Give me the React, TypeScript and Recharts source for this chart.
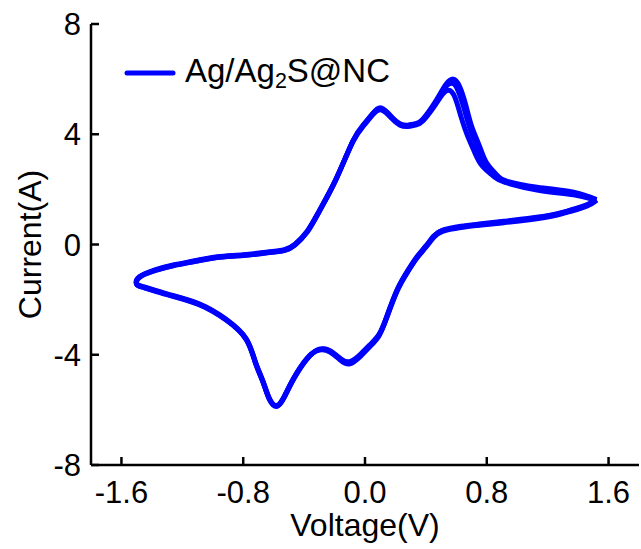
import { LineChart, Line, XAxis, YAxis, Legend } from "recharts";

const voltageTicks = [-1.6, -0.8, 0, 0.8, 1.6];
const currentTicks = [-8, -4, 0, 4, 8];

// three overlapping CV cycles, each one loop starting at the right vertex
const cycle1Voltage = [1.52, 1.46, 1.35, 1.24, 1.08, 0.91, 0.75, 0.63, 0.51, 0.45, 0.4, 0.34, 0.28, 0.21, 0.14, 0.09, 0.03, -0.03, -0.1, -0.16, -0.23, -0.3, -0.38, -0.47, -0.53, -0.58, -0.63, -0.67, -0.72, -0.78, -0.91, -1.09, -1.3, -1.45, -1.5, -1.48, -1.38, -1.26, -1.1, -0.97, -0.8, -0.65, -0.53, -0.46, -0.38, -0.3, -0.19, -0.08, -0.01, 0.05, 0.11, 0.18, 0.23, 0.28, 0.33, 0.38, 0.46, 0.51, 0.55, 0.59, 0.63, 0.67, 0.72, 0.77, 0.85, 0.92, 1.13, 1.37, 1.52];
const cycle1Current = [1.6, 1.4, 1.2, 1.04, 0.9, 0.79, 0.7, 0.62, 0.48, 0.25, -0.1, -0.5, -1.0, -1.7, -2.7, -3.33, -3.72, -4.06, -4.33, -4.2, -3.9, -3.83, -4.12, -4.86, -5.5, -5.84, -5.56, -4.96, -4.26, -3.42, -2.72, -2.15, -1.79, -1.54, -1.42, -1.16, -0.92, -0.74, -0.57, -0.44, -0.37, -0.28, -0.19, 0.01, 0.48, 1.23, 2.38, 3.72, 4.3, 4.7, 4.88, 4.55, 4.33, 4.28, 4.33, 4.48, 5.05, 5.45, 5.6, 5.35, 4.65, 4.0, 3.35, 2.85, 2.45, 2.25, 1.98, 1.8, 1.6];

const cycle2Voltage = [1.52, 1.46, 1.35, 1.24, 1.08, 0.91, 0.75, 0.63, 0.51, 0.45, 0.4, 0.34, 0.28, 0.21, 0.14, 0.09, 0.03, -0.03, -0.1, -0.16, -0.23, -0.3, -0.38, -0.47, -0.53, -0.58, -0.63, -0.67, -0.72, -0.78, -0.91, -1.09, -1.3, -1.45, -1.5, -1.48, -1.38, -1.26, -1.1, -0.97, -0.8, -0.65, -0.53, -0.46, -0.38, -0.3, -0.19, -0.08, -0.01, 0.05, 0.11, 0.18, 0.23, 0.28, 0.33, 0.38, 0.47, 0.52, 0.57, 0.61, 0.65, 0.69, 0.74, 0.79, 0.86, 0.93, 1.13, 1.37, 1.52];
const cycle2Current = [1.62, 1.43, 1.23, 1.07, 0.93, 0.82, 0.72, 0.64, 0.5, 0.27, -0.08, -0.48, -0.98, -1.68, -2.68, -3.3, -3.68, -4.02, -4.29, -4.17, -3.87, -3.81, -4.14, -4.88, -5.53, -5.86, -5.58, -4.98, -4.28, -3.44, -2.74, -2.17, -1.81, -1.56, -1.44, -1.18, -0.94, -0.76, -0.59, -0.46, -0.39, -0.3, -0.21, -0.01, 0.46, 1.21, 2.37, 3.74, 4.33, 4.73, 4.92, 4.58, 4.36, 4.31, 4.36, 4.52, 5.18, 5.65, 5.85, 5.6, 4.95, 4.2, 3.5, 2.9, 2.48, 2.28, 2.03, 1.85, 1.62];

const cycle3Voltage = [1.52, 1.46, 1.35, 1.24, 1.08, 0.91, 0.75, 0.63, 0.51, 0.45, 0.4, 0.34, 0.28, 0.21, 0.14, 0.09, 0.03, -0.03, -0.1, -0.16, -0.23, -0.3, -0.38, -0.47, -0.53, -0.58, -0.63, -0.67, -0.72, -0.78, -0.91, -1.09, -1.3, -1.45, -1.5, -1.48, -1.38, -1.26, -1.1, -0.97, -0.8, -0.65, -0.53, -0.46, -0.38, -0.3, -0.19, -0.08, -0.01, 0.05, 0.11, 0.18, 0.23, 0.28, 0.33, 0.38, 0.47, 0.53, 0.58, 0.62, 0.66, 0.7, 0.75, 0.8, 0.87, 0.93, 1.13, 1.37, 1.52];
const cycle3Current = [1.63, 1.45, 1.25, 1.09, 0.95, 0.84, 0.74, 0.66, 0.52, 0.3, -0.05, -0.45, -0.95, -1.65, -2.65, -3.28, -3.65, -3.98, -4.25, -4.14, -3.85, -3.8, -4.15, -4.9, -5.55, -5.88, -5.6, -5.0, -4.3, -3.45, -2.75, -2.18, -1.82, -1.57, -1.45, -1.19, -0.95, -0.77, -0.6, -0.47, -0.4, -0.31, -0.22, -0.02, 0.45, 1.2, 2.36, 3.75, 4.35, 4.75, 4.95, 4.6, 4.38, 4.33, 4.38, 4.55, 5.25, 5.8, 6.0, 5.75, 5.1, 4.3, 3.6, 2.95, 2.5, 2.3, 2.08, 1.9, 1.63];

const toPoints = (v: number[], c: number[]) => v.map((x, k) => ({ v: x, i: c[k] }));

const cycles = [
  toPoints(cycle1Voltage, cycle1Current),
  toPoints(cycle2Voltage, cycle2Current),
  toPoints(cycle3Voltage, cycle3Current),
];

const FONT = '"Liberation Sans", Arial, sans-serif';
const BLUE = "#0000ff";

function LegendBox() {
  return (
    <div
      style={{
        display: "flex",
        alignItems: "center",
        fontFamily: FONT,
        fontSize: 33,
        color: "#000",
        whiteSpace: "nowrap",
      }}
    >
      <svg width={52} height={10}>
        <line x1={3} y1={5} x2={49} y2={5} stroke={BLUE} strokeWidth={5} strokeLinecap="round" />
      </svg>
      <span style={{ marginLeft: 9, lineHeight: 1 }}>
        Ag/Ag<span style={{ fontSize: "0.65em", verticalAlign: "-0.3em" }}>2</span>S@NC
      </span>
    </div>
  );
}

export default function App() {
  return (
    <div style={{ position: "absolute", left: 0, top: 0 }}>
      <LineChart width={641} height={549} margin={{ top: 24, right: 2, bottom: 0, left: 0 }}>
        <XAxis
          dataKey="v"
          type="number"
          domain={[-1.8, 1.8]}
          ticks={voltageTicks}
          allowDataOverflow
          tickFormatter={(v: number) => v.toFixed(1)}
          tick={{ fill: "#000", fontSize: 31, fontFamily: FONT }}
          axisLine={{ stroke: "#000", strokeWidth: 2.5 }}
          tickLine={{ stroke: "#000", strokeWidth: 2.5 }}
          tickSize={-8}
          tickMargin={24}
          height={84}
          label={{
            value: "Voltage(V)",
            position: "insideBottom",
            offset: 13,
            style: { fontSize: 32, fill: "#000", fontFamily: FONT },
          }}
        />
        <XAxis
          xAxisId="top"
          orientation="top"
          type="number"
          domain={[-1.8, 1.8]}
          tick={false}
          tickLine={false}
          axisLine={{ stroke: "#000", strokeWidth: 2.5 }}
          height={0}
        />
        <YAxis
          type="number"
          domain={[-8, 8]}
          ticks={currentTicks}
          allowDataOverflow
          tick={{ fill: "#000", fontSize: 31, fontFamily: FONT }}
          axisLine={{ stroke: "#000", strokeWidth: 2.5 }}
          tickLine={{ stroke: "#000", strokeWidth: 2.5 }}
          tickSize={-8}
          tickMargin={18}
          width={91}
          label={{
            value: "Current(A)",
            angle: -90,
            position: "insideLeft",
            offset: 30,
            style: { textAnchor: "middle", fontSize: 32, fill: "#000", fontFamily: FONT },
          }}
        />
        <YAxis
          yAxisId="right"
          orientation="right"
          type="number"
          domain={[-8, 8]}
          tick={false}
          tickLine={false}
          axisLine={{ stroke: "#000", strokeWidth: 2.5 }}
          width={0}
        />
        <Legend
          layout="vertical"
          verticalAlign="middle"
          align="center"
          content={() => <LegendBox />}
          wrapperStyle={{ left: 124, top: 54, width: 340 }}
        />
        {cycles.map((pts, k) => (
          <Line
            key={k}
            data={pts}
            dataKey="i"
            type="natural"
            stroke={BLUE}
            strokeWidth={5}
            dot={false}
            activeDot={false}
            legendType="none"
            isAnimationActive={false}
          />
        ))}
      </LineChart>
    </div>
  );
}
